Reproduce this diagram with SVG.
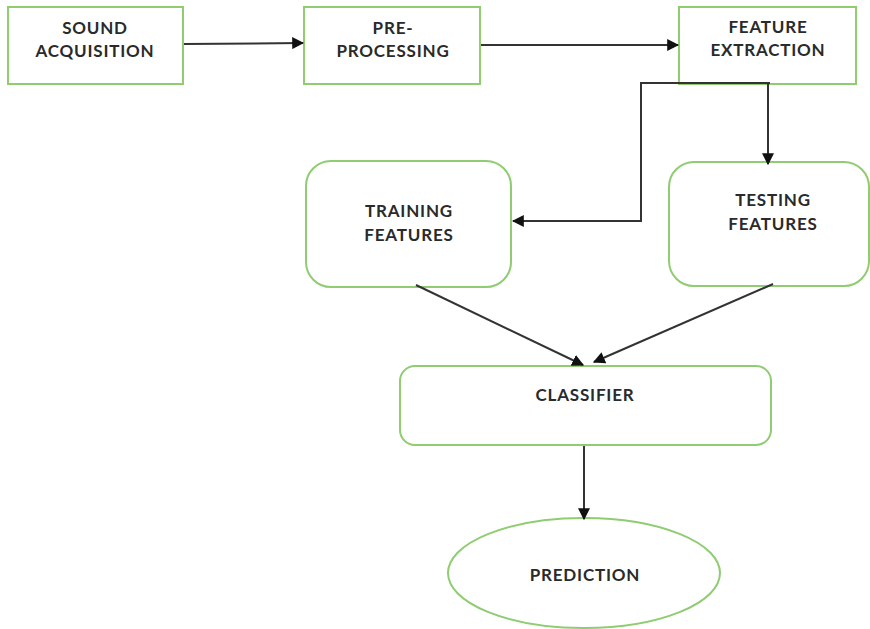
<svg xmlns="http://www.w3.org/2000/svg" width="870" height="629" viewBox="0 0 870 629">
<defs>
<marker id="ah" viewBox="0 0 10 10" refX="9" refY="5" markerWidth="6" markerHeight="6" orient="auto" markerUnits="strokeWidth">
<path d="M0,0 L10,5 L0,10 z" fill="#111"/>
</marker>
<style>
.n{fill:#fff;stroke:#8fcc72;stroke-width:2}
.t{font-family:Lato,"Open Sans",sans-serif;font-weight:bold;font-size:17px;letter-spacing:0.8px;fill:#2a2a2a;text-anchor:middle}
.c{fill:none;stroke:#333;stroke-width:2;marker-end:url(#ah)}
</style>
</defs>
<rect width="870" height="629" fill="#fff"/>
<g id="sound"><rect class="n" x="8" y="7" width="175" height="77"/><text class="t" x="95" y="34">SOUND</text><text class="t" x="95" y="57">ACQUISITION</text></g>
<g id="pre"><rect class="n" x="304" y="7" width="176" height="77"/><text class="t" x="393" y="34">PRE-</text><text class="t" x="393" y="57">PROCESSING</text></g>
<g id="feat"><rect class="n" x="679" y="7" width="177" height="77"/><text class="t" x="768" y="33">FEATURE</text><text class="t" x="768" y="56">EXTRACTION</text></g>
<g id="train"><rect class="n" x="306" y="161" width="205" height="126" rx="25"/><text class="t" x="409" y="217">TRAINING</text><text class="t" x="409" y="241">FEATURES</text></g>
<g id="test"><rect class="n" x="669" y="162" width="200" height="124" rx="25"/><text class="t" x="773" y="206">TESTING</text><text class="t" x="773" y="230">FEATURES</text></g>
<g id="classifier"><rect class="n" x="400" y="366" width="371" height="79" rx="15"/><text class="t" x="585" y="401">CLASSIFIER</text></g>
<g id="prediction"><ellipse class="n" cx="584" cy="573" rx="136" ry="55"/><text class="t" x="585" y="581">PREDICTION</text></g>
<g id="connectors">
<line class="c" x1="184" y1="44" x2="303" y2="43"/>
<line class="c" x1="481" y1="45" x2="678" y2="45"/>
<polyline class="c" points="770,83 641,83 641,221 513,221"/>
<line class="c" x1="768" y1="84" x2="768" y2="164"/>
<line class="c" x1="416" y1="285" x2="583" y2="365"/>
<line class="c" x1="773" y1="284" x2="594" y2="362"/>
<line class="c" x1="584" y1="446" x2="584" y2="519"/>
</g>
</svg>
